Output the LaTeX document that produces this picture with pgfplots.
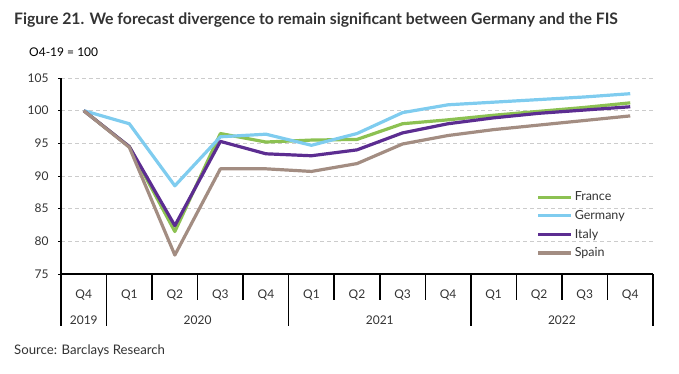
\documentclass[border=0pt]{standalone}
\usepackage{pgfplots}
\pgfplotsset{compat=1.18}
\usepackage{fontspec}
\setmainfont{Lato}
\definecolor{cfr}{HTML}{8CC152}
\definecolor{cde}{HTML}{7FCCEF}
\definecolor{cit}{HTML}{5C2D91}
\definecolor{ces}{HTML}{A38D82}
\definecolor{txt}{HTML}{333333}
\definecolor{grd}{HTML}{CCCCCC}
\begin{document}
\begin{tikzpicture}[x=1pt,y=1pt]
\path[use as bounding box] (-61,-99) rectangle (618,274);
\node[anchor=west,font=\fontsize{15.8}{18}\selectfont\bfseries,text=txt,inner sep=0pt] at (-47,254) {Figure 21. We forecast divergence to remain significant between Germany and the FIS};
\node[anchor=west,font=\fontsize{12}{14}\selectfont,text=black,inner sep=0pt] at (-32,222) {O4-19 = 100};
\node[anchor=west,font=\fontsize{13.2}{15}\selectfont,text=txt,inner sep=0pt] at (-47,-77) {Source: Barclays Research};
\begin{axis}[
  at={(0,0)}, anchor=south west,
  scale only axis, width=592pt, height=196pt,
  xmin=-0.5, xmax=12.5, ymin=75, ymax=105,
  clip=false,
  axis x line=bottom, axis y line=left,
  axis line style={-, black, line width=1.4pt},
  ytick={75,80,...,105},
  xtick={0,...,12},
  xticklabels={Q4,Q1,Q2,Q3,Q4,Q1,Q2,Q3,Q4,Q1,Q2,Q3,Q4},
  x tick style={draw=none},
  y tick style={black, line width=1pt},
  tick align=outside,
  major tick length=3pt,
  ymajorgrids,
  grid style={grd, dashed, dash pattern=on 4pt off 3pt, line width=0.8pt},
  /pgf/number format/assume math mode=true,
  tick label style={font=\fontsize{12}{14}\selectfont, text=txt},
  yticklabel style={xshift=-6pt},
  xticklabel style={anchor=center, yshift=-18pt},
  legend style={at={(rel axis cs:0.803,0.43)}, anchor=north west, draw=none, fill=none,
    font=\fontsize{12.5}{15}\selectfont, text=txt, row sep=4pt, inner sep=0pt},
  legend cell align=left,
  legend image code/.code={\draw[#1] (0pt,0pt) -- (33pt,0pt);},
  every axis plot/.append style={line width=3.2pt, line join=round},
]
\addplot[cfr] coordinates {(0,100) (1,94.5) (2,81.5) (3,96.5) (4,95.2) (5,95.5) (6,95.6) (7,98.0) (8,98.6) (9,99.3) (10,99.9) (11,100.5) (12,101.2)};
\addlegendentry{France}
\addplot[cde] coordinates {(0,100) (1,98.0) (2,88.5) (3,96.0) (4,96.4) (5,94.7) (6,96.5) (7,99.7) (8,100.9) (9,101.3) (10,101.7) (11,102.1) (12,102.6)};
\addlegendentry{Germany}
\addplot[cit] coordinates {(0,100) (1,94.5) (2,82.4) (3,95.3) (4,93.4) (5,93.1) (6,94.0) (7,96.6) (8,98.0) (9,98.9) (10,99.6) (11,100.1) (12,100.6)};
\addlegendentry{Italy}
\addplot[ces] coordinates {(0,100) (1,94.4) (2,77.9) (3,91.1) (4,91.1) (5,90.7) (6,91.9) (7,94.9) (8,96.2) (9,97.1) (10,97.8) (11,98.5) (12,99.2)};
\addlegendentry{Spain}
% category dividers
\draw[black, line width=1.6pt] (axis cs:-0.5,75) -- ([yshift=-52pt]axis cs:-0.5,75);
\draw[black, line width=1.6pt] (axis cs:0.5,75) -- ([yshift=-52pt]axis cs:0.5,75);
\draw[black, line width=1.6pt] (axis cs:1.5,75) -- ([yshift=-26pt]axis cs:1.5,75);
\draw[black, line width=1.6pt] (axis cs:2.5,75) -- ([yshift=-26pt]axis cs:2.5,75);
\draw[black, line width=1.6pt] (axis cs:3.5,75) -- ([yshift=-26pt]axis cs:3.5,75);
\draw[black, line width=1.6pt] (axis cs:4.5,75) -- ([yshift=-52pt]axis cs:4.5,75);
\draw[black, line width=1.6pt] (axis cs:5.5,75) -- ([yshift=-26pt]axis cs:5.5,75);
\draw[black, line width=1.6pt] (axis cs:6.5,75) -- ([yshift=-26pt]axis cs:6.5,75);
\draw[black, line width=1.6pt] (axis cs:7.5,75) -- ([yshift=-26pt]axis cs:7.5,75);
\draw[black, line width=1.6pt] (axis cs:8.5,75) -- ([yshift=-52pt]axis cs:8.5,75);
\draw[black, line width=1.6pt] (axis cs:9.5,75) -- ([yshift=-26pt]axis cs:9.5,75);
\draw[black, line width=1.6pt] (axis cs:10.5,75) -- ([yshift=-26pt]axis cs:10.5,75);
\draw[black, line width=1.6pt] (axis cs:11.5,75) -- ([yshift=-26pt]axis cs:11.5,75);
\draw[black, line width=1.6pt] (axis cs:12.5,75) -- ([yshift=-52pt]axis cs:12.5,75);
% year labels
\node[font=\fontsize{12}{14}\selectfont, text=txt] at ([yshift=-46pt]axis cs:0,75) {2019};
\node[font=\fontsize{12}{14}\selectfont, text=txt] at ([yshift=-46pt]axis cs:2.5,75) {2020};
\node[font=\fontsize{12}{14}\selectfont, text=txt] at ([yshift=-46pt]axis cs:6.5,75) {2021};
\node[font=\fontsize{12}{14}\selectfont, text=txt] at ([yshift=-46pt]axis cs:10.5,75) {2022};
\end{axis}
\end{tikzpicture}
\end{document}
